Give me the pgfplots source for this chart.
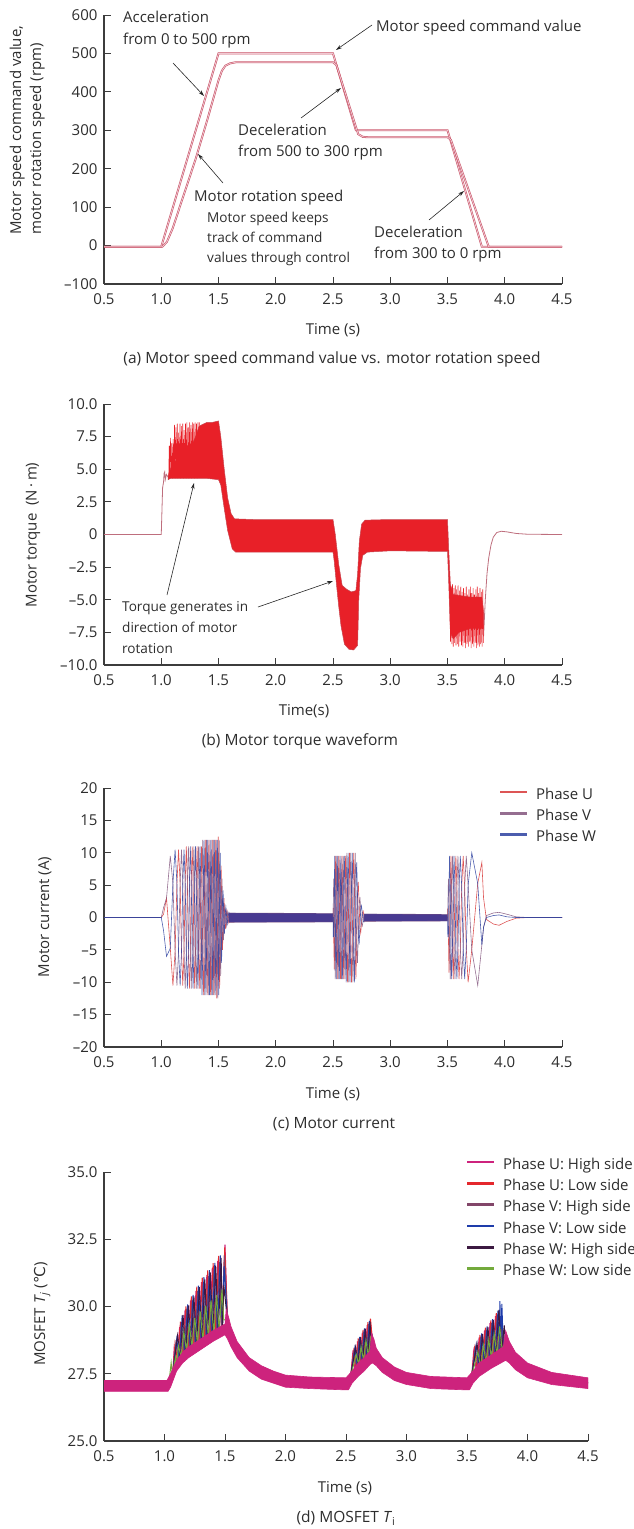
\documentclass[border=0pt]{standalone}
\usepackage{fontspec}
\setmainfont{Open Sans}
\newfontfamily\dejavu{DejaVu Sans}
\usepackage{pgfplots}
\usepackage{pgfplotstable}
\pgfplotsset{compat=1.18}
\usetikzlibrary{arrows.meta}

\definecolor{axgray}{RGB}{60,60,60}
\definecolor{txt}{RGB}{45,45,45}
\definecolor{cmdred}{RGB}{200,80,100}
\definecolor{cmdpink}{RGB}{240,200,210}
\definecolor{torqred}{RGB}{232,32,40}
\definecolor{torqedge}{RGB}{200,70,80}
\definecolor{torqthin}{RGB}{190,110,125}
\definecolor{phU}{RGB}{215,55,55}
\definecolor{phV}{RGB}{130,85,125}
\definecolor{phW}{RGB}{45,65,160}
\definecolor{bandc}{RGB}{72,58,145}
\definecolor{tUH}{RGB}{205,35,125}
\definecolor{tUL}{RGB}{228,40,45}
\definecolor{tVH}{RGB}{130,70,105}
\definecolor{tVL}{RGB}{30,60,170}
\definecolor{tWH}{RGB}{60,25,65}
\definecolor{tWL}{RGB}{115,170,60}

\newcommand\smfont{\fontsize{13.6}{16}\selectfont}
\newcommand\capfont{\fontsize{15.5}{18}\selectfont}

\pgfplotstableread{
t U V W
0.5 0 0 0
1.0 0 0 0
1.02 0.5 1.5 -2
1.046 3 3 -6
1.079 -4.75 9.5 -4.75
1.102 -10.5 5.25 5.25
1.121 -5.25 -5.25 10.5
1.137 5.25 -10.5 5.25
1.151 10.5 -5.25 -5.25
1.165 5.25 5.25 -10.5
1.177 -5.25 10.5 -5.25
1.188 -10.5 5.25 5.25
1.199 -5.25 -5.25 10.5
1.209 5.5 -11 5.5
1.219 11 -5.5 -5.5
1.228 5.5 5.5 -11
1.237 -5.5 11 -5.5
1.246 -11 5.5 5.5
1.254 -5.5 -5.5 11
1.262 5.5 -11 5.5
1.270 11 -5.5 -5.5
1.278 5.5 5.5 -11
1.285 -5.5 11 -5.5
1.292 -11 5.5 5.5
1.299 -5.5 -5.5 11
1.306 5.5 -11 5.5
1.313 11 -5.5 -5.5
1.320 5.5 5.5 -11
1.326 -5.5 11 -5.5
1.332 -11 5.5 5.5
1.339 -5.5 -5.5 11
1.345 5.5 -11 5.5
1.351 11 -5.5 -5.5
1.356 6 6 -12
1.362 -6 12 -6
1.368 -12 6 6
1.374 -6 -6 12
1.379 6 -12 6
1.385 12 -6 -6
1.390 6 6 -12
1.395 -6 12 -6
1.401 -12 6 6
1.406 -6 -6 12
1.411 6 -12 6
1.416 12 -6 -6
1.421 6 6 -12
1.426 -6 12 -6
1.431 -12 6 6
1.435 -6 -6 12
1.440 6 -12 6
1.445 12 -6 -6
1.450 6 6 -12
1.454 -6 12 -6
1.459 -12 6 6
1.463 -6 -6 12
1.468 6 -12 6
1.472 12 -6 -6
1.477 6 6 -12
1.481 -6 12 -6
1.485 -12.5 6 6
1.490 -6 -6 12
1.494 6 -12.5 6
1.498 12.5 -6 -6
1.502 6 6 -12
1.506 -6 12 -6
1.510 -11 5.5 5.5
1.515 -5 -5 10
1.519 4.5 -9 4.5
1.523 8 -4 -4
1.527 3.5 3.5 -7
1.531 -3 6 -3
1.535 -5 2.5 2.5
1.540 -2.1 -2.1 4.2
1.544 1.75 -3.5 1.75
1.548 3 -1.5 -1.5
1.552 1.25 1.25 -2.5
1.556 -1.05 2.1 -1.05
1.560 -1.8 0.9 0.9
1.565 -0.75 -0.75 1.5
1.569 0.65 -1.3 0.65
1.573 1.1 -0.55 -0.55
1.577 0.5 0.5 -1
1.581 -0.45 0.9 -0.45
1.585 -0.8 0.4 0.4
1.590 -0.35 -0.35 0.7
1.594 0.33 -0.65 0.33
1.598 0.6 -0.3 -0.3
1.60 0 0 0
2.50 0 0 0
2.502 1.5 1.5 -3
2.506 -3 6 -3
2.511 -8 4 4
2.515 -4.75 -4.75 9.5
2.519 4.75 -9.5 4.75
2.523 9.5 -4.75 -4.75
2.528 4.75 4.75 -9.5
2.532 -4.75 9.5 -4.75
2.537 -9.5 4.75 4.75
2.541 -4.75 -4.75 9.5
2.546 4.75 -9.5 4.75
2.550 9.5 -4.75 -4.75
2.555 4.75 4.75 -9.5
2.560 -4.75 9.5 -4.75
2.565 -9.5 4.75 4.75
2.569 -4.75 -4.75 9.5
2.574 4.75 -9.5 4.75
2.579 9.5 -4.75 -4.75
2.584 4.75 4.75 -9.5
2.589 -4.75 9.5 -4.75
2.594 -9.5 4.75 4.75
2.599 -4.75 -4.75 9.5
2.605 4.75 -9.5 4.75
2.610 9.5 -4.75 -4.75
2.615 5 5 -10
2.621 -5 10 -5
2.626 -10 5 5
2.632 -5 -5 10
2.638 5 -10 5
2.644 10 -5 -5
2.649 5 5 -10
2.655 -5 10 -5
2.662 -10 5 5
2.668 -5 -5 10
2.674 5 -10 5
2.681 10 -5 -5
2.687 5 5 -10
2.694 -5 10 -5
2.700 -9.5 4.75 4.75
2.707 -4.25 -4.25 8.5
2.714 3.5 -7 3.5
2.721 5.5 -2.75 -2.75
2.728 2.1 2.1 -4.2
2.735 -1.6 3.2 -1.6
2.742 -2.4 1.2 1.2
2.749 -0.9 -0.9 1.8
2.756 0.65 -1.3 0.65
2.763 1 -0.5 -0.5
2.770 0.35 0.35 -0.7
2.777 -0.25 0.5 -0.25
2.78 0 0 0
3.50 0 0 0
3.503 1.5 1.5 -3
3.508 -3 6 -3
3.513 -8.5 4.25 4.25
3.518 -4.75 -4.75 9.5
3.524 4.75 -9.5 4.75
3.530 9.5 -4.75 -4.75
3.536 4.75 4.75 -9.5
3.543 -4.75 9.5 -4.75
3.550 -9.5 4.75 4.75
3.557 -4.75 -4.75 9.5
3.565 4.75 -9.5 4.75
3.573 9.5 -4.75 -4.75
3.582 4.75 4.75 -9.5
3.591 -4.75 9.5 -4.75
3.601 -9.5 4.75 4.75
3.612 -4.75 -4.75 9.5
3.624 4.75 -9.5 4.75
3.637 9.5 -4.75 -4.75
3.650 4.75 4.75 -9.5
3.664 -4.75 9.5 -4.75
3.680 -10 5 5
3.712 -5 -5 10
3.764 5.25 -10.5 5.25
3.800 8.5 -4.25 -4.25
3.815 3 -1.5 -1.5
3.840 -0.3 0.3 0
3.90 -1.0 0.7 0.3
3.95 -1.2 0.8 0.4
4.02 -0.6 0.5 0.1
4.10 -0.1 0.1 0
4.20 0 0 0
4.50 0 0 0
}\currenttable

\pgfplotsset{
  myaxis/.style={
    scale only axis,
    anchor=north west,
    axis lines*=left,
    axis line style={axgray, line width=1.3pt},
    tick align=inside,
    major tick length=7pt,
    major tick style={axgray, line width=1pt},
    xmin=0.5, xmax=4.5,
    xtick={0.5,1,1.5,2,2.5,3,3.5,4,4.5},
    xticklabels={0.5,1.0,1.5,2.0,2.5,3.0,3.5,4.0,4.5},
    tick label style={font=\fontsize{15}{18}\selectfont, text=txt},
    xticklabel style={yshift=-6pt},
    yticklabel style={xshift=-3pt},
  },
  mylegend/.style={
    legend cell align=left,
    legend image code/.code={\draw[##1, line width=2.6pt] (0pt,0.36em) -- (27pt,0.36em);},
    legend style={draw=none, fill=none, inner sep=0pt, outer sep=0pt,
      row sep=6.8pt, font=\fontsize{15}{18}\selectfont, text=txt,
      nodes={inner sep=0pt, text height=11pt, text depth=3.5pt},
      /tikz/every odd column/.append style={column sep=7.5pt}},
  },
}

\begin{document}
\begin{tikzpicture}[font=\fontsize{15}{18}\selectfont, text=txt]

% ---------------- (a) ----------------
\begin{axis}[myaxis, at={(104pt,-15pt)}, width=458pt, height=269pt,
  ymin=-100, ymax=600, ytick={-100,0,100,200,300,400,500,600},
  yticklabels={–100,0,100,200,300,400,500,600}]
\addplot[draw=cmdred, line width=0.55pt, double=cmdpink, double distance=0.8pt]
  coordinates {(0.5,-3) (1.0,-3) (1.5,500) (2.5,500) (2.7,300) (3.5,300) (3.8,-3) (4.5,-3)};
\addplot[draw=cmdred, line width=0.55pt, double=cmdpink, double distance=0.8pt]
  coordinates {(0.5,-3) (1.01,-3) (1.05,10) (1.1,45) (1.2,135) (1.3,225) (1.4,325) (1.5,430)
  (1.53,455) (1.56,468) (1.6,474) (1.65,477) (2.5,477) (2.53,470) (2.72,290) (2.76,283)
  (2.8,282) (3.5,282) (3.53,275) (3.86,-3) (4.5,-3)};
\end{axis}

% ---------------- (b) ----------------
\begin{axis}[myaxis, at={(104pt,-404pt)}, width=458pt, height=261pt,
  ymin=-10, ymax=10, ytick={-10,-7.5,-5,-2.5,0,2.5,5,7.5,10},
  yticklabels={–10.0,–7.5,–5.0,–2.5,0,2.5,5.0,7.5,10.0}]
\addplot[torqthin, line width=0.8pt] coordinates {(0.5,0) (1.0,0) (1.005,1.5) (1.012,3.6)
  (1.02,4.0) (1.025,4.7) (1.03,4.8) (1.035,4.2) (1.045,4.6) (1.06,4.4)};
\addplot[torqthin, line width=0.8pt] coordinates {(3.815,-7.8) (3.83,-5.0) (3.845,-3.0)
  (3.86,-1.8) (3.88,-0.8) (3.9,-0.2) (3.93,0.15) (3.97,0.25) (4.02,0.2) (4.1,0.08)
  (4.2,0.02) (4.5,0)};
\addplot[fill=torqred, draw=torqedge, line width=0.5pt] coordinates {
  (1.06,4.4) (1.08,5.0) (1.1,5.5) (1.15,5.8) (1.2,6.0) (1.25,6.5) (1.3,7.5) (1.33,8.3)
  (1.4,8.6) (1.45,8.6) (1.5,8.7) (1.52,7.5) (1.55,5.0) (1.58,2.8) (1.61,1.6) (1.64,1.2)
  (1.8,1.15) (2.0,1.15) (2.5,1.15) (2.52,0.0) (2.55,-2.3) (2.58,-3.9) (2.62,-4.2)
  (2.66,-4.4) (2.70,-4.3) (2.715,-3.0) (2.73,-0.5) (2.75,0.8) (2.78,1.1) (3.0,1.15)
  (3.5,1.15) (3.51,-1.0) (3.525,-3.8) (3.55,-4.6) (3.7,-4.8) (3.8,-4.8) (3.815,-6.0)
  (3.815,-7.2) (3.8,-7.2) (3.7,-7.2) (3.6,-7.5) (3.55,-8.0) (3.525,-7.5) (3.51,-3.5)
  (3.5,-1.3) (3.0,-1.25) (2.8,-1.35) (2.76,-1.6) (2.74,-2.6) (2.725,-5.0) (2.715,-8.5)
  (2.68,-8.85) (2.64,-8.8) (2.6,-8.4) (2.57,-7.0) (2.55,-5.5) (2.53,-3.8) (2.51,-2.0)
  (2.5,-1.35) (1.8,-1.35) (1.65,-1.35) (1.62,-1.1) (1.58,0.3) (1.55,2.0) (1.52,3.8)
  (1.5,4.2) (1.4,4.3) (1.3,4.3) (1.2,4.3) (1.1,4.3) (1.08,4.3) (1.06,4.2)} -- cycle;
\addplot[torqred, line width=0.55pt] coordinates {
  (1.065,4.4) (1.07,6.8) (1.074,4.5) (1.08,7.4) (1.086,4.4) (1.092,7.0) (1.098,4.3)
  (1.104,7.3) (1.11,4.4) (1.116,8.4) (1.122,4.3) (1.128,8.2) (1.134,4.4) (1.14,8.5)
  (1.146,4.3) (1.152,7.8) (1.158,4.4) (1.164,8.5) (1.17,4.3) (1.176,8.3) (1.182,4.4)
  (1.188,8.5) (1.194,4.3) (1.2,8.0) (1.206,4.4) (1.212,8.5) (1.218,4.3) (1.224,8.6)
  (1.23,4.4) (1.236,8.2) (1.242,4.3) (1.248,8.6) (1.254,4.4) (1.26,8.4) (1.266,4.3)
  (1.272,8.6) (1.278,4.4) (1.284,8.5) (1.29,4.3) (1.296,8.6) (1.302,4.4) (1.308,8.5)
  (1.314,4.3) (1.32,8.6) (1.326,4.4) (1.332,8.6)};
\addplot[torqred, line width=0.55pt] coordinates {
  (3.52,-3.9) (3.526,-8.2) (3.532,-4.0) (3.538,-8.4) (3.544,-3.8) (3.55,-8.6) (3.556,-4.1)
  (3.562,-8.3) (3.568,-3.9) (3.574,-8.5) (3.58,-4.2) (3.586,-8.4) (3.592,-3.9) (3.598,-8.6)
  (3.604,-4.3) (3.61,-8.2) (3.616,-4.0) (3.622,-8.5) (3.628,-4.4) (3.634,-8.6) (3.64,-4.1)
  (3.646,-8.3) (3.652,-4.5) (3.658,-8.7) (3.664,-4.0) (3.67,-8.4) (3.676,-4.6) (3.682,-8.6)
  (3.688,-4.2) (3.694,-8.2) (3.7,-4.0) (3.706,-8.7) (3.712,-4.5) (3.718,-8.4) (3.724,-4.1)
  (3.73,-8.6) (3.736,-4.6) (3.742,-8.3) (3.748,-4.2) (3.754,-8.7) (3.76,-4.0) (3.766,-8.5)
  (3.772,-4.5) (3.778,-8.6) (3.784,-4.1) (3.79,-8.4) (3.796,-4.4) (3.802,-8.6) (3.808,-4.2)
  (3.814,-8.3)};
\end{axis}

% ---------------- (c) ----------------
\begin{axis}[myaxis, mylegend, at={(104pt,-788pt)}, width=458pt, height=259pt,
  ymin=-20, ymax=20, ytick={-20,-15,-10,-5,0,5,10,15,20},
  yticklabels={–20,–15,–10,–5,0,5,10,15,20},
  legend style={at={(0.8624,0.9988)}, anchor=north west}]
\addplot[phU, line width=0.6pt, draw opacity=0.85] table[x=t, y=U] {\currenttable};
\addlegendentry{Phase U}
\addplot[phV, line width=0.6pt, draw opacity=0.85] table[x=t, y=V] {\currenttable};
\addlegendentry{Phase V}
\addplot[phW, line width=0.6pt, draw opacity=0.85] table[x=t, y=W] {\currenttable};
\addlegendentry{Phase W}
\addplot[fill=bandc, draw=phV, line width=0.3pt, forget plot] coordinates {(1.59,0.7) (2.5,0.65) (2.5,-0.7) (1.59,-0.75)} -- cycle;
\addplot[fill=bandc, draw=phV, line width=0.3pt, forget plot] coordinates {(2.77,0.55) (3.5,0.5) (3.5,-0.55) (2.77,-0.6)} -- cycle;
\end{axis}

% ---------------- (d) ----------------
\begin{axis}[myaxis, mylegend, at={(104pt,-1172pt)}, width=484pt, height=269pt,
  ymin=25, ymax=35, ytick={25,27.5,30,32.5,35},
  yticklabels={25.0,27.5,30.0,32.5,35.0},
  legend style={at={(0.748,1.0508)}, anchor=north west}]
\addplot[tUH, line width=1pt] coordinates {(0.5,27.05) (1.02,27.05) (1.05,27.3) (1.07,27.6)
  (1.08,28.46) (1.1025,27.9) (1.125,29.24) (1.1475,28.2) (1.17,29.87) (1.1925,28.38)
  (1.215,30.23) (1.2375,28.5) (1.26,30.58) (1.2825,28.65) (1.305,30.91) (1.3275,28.78)
  (1.35,31.18) (1.3725,28.92) (1.395,31.44) (1.4175,29.03) (1.44,31.70) (1.47,29.15)
  (1.5,32.3) (1.52,29.5) (1.55,29.0) (1.6,28.45) (1.7,27.85) (1.8,27.55) (1.9,27.35)
  (2.0,27.25) (2.2,27.15) (2.5,27.1) (2.52,27.2) (2.54,27.45)
  (2.555,28.23) (2.575,27.65) (2.595,28.70) (2.615,27.85) (2.635,29.03) (2.655,28.0)
  (2.675,29.31) (2.69,28.2) (2.70,29.5)
  (2.715,28.9) (2.73,28.6) (2.75,28.2) (2.8,27.85) (2.9,27.5) (3.0,27.35) (3.2,27.2)
  (3.5,27.1) (3.52,27.2) (3.54,27.45)
  (3.555,28.32) (3.5775,27.6) (3.60,28.85) (3.6225,27.8) (3.645,29.11) (3.6675,27.95)
  (3.69,29.38) (3.7125,28.1) (3.735,29.64) (3.7575,28.2) (3.78,29.5) (3.80,28.4)
  (3.825,28.8) (3.85,28.4) (3.9,28.0) (4.0,27.6) (4.2,27.3) (4.5,27.15)};
\addlegendentry{Phase U: High side}
\addplot[tUL, line width=1pt] coordinates {(0.5,27.05) (1.02,27.05) (1.05,27.3) (1.07,27.6)
  (1.087,28.62) (1.1095,27.95) (1.132,29.44) (1.1545,28.22) (1.177,30.0) (1.1995,28.4)
  (1.222,30.38) (1.2445,28.54) (1.267,30.74) (1.2895,28.67) (1.312,31.07) (1.3345,28.8)
  (1.357,31.34) (1.3795,28.94) (1.402,31.61) (1.4245,29.04) (1.447,31.88) (1.475,29.15)
  (1.498,32.2) (1.52,29.5) (1.55,29.0) (1.6,28.45) (1.7,27.85) (1.8,27.55) (1.9,27.35)
  (2.0,27.25) (2.2,27.15) (2.5,27.1) (2.52,27.2) (2.54,27.45)
  (2.561,28.33) (2.581,27.7) (2.601,28.81) (2.621,27.88) (2.641,29.13) (2.661,28.03)
  (2.681,29.42) (2.692,28.25) (2.702,29.55)
  (2.715,28.9) (2.73,28.6) (2.75,28.2) (2.8,27.85) (2.9,27.5) (3.0,27.35) (3.2,27.2)
  (3.5,27.1) (3.52,27.2) (3.54,27.45)
  (3.562,28.44) (3.5845,27.65) (3.607,28.94) (3.6295,27.82) (3.652,29.21) (3.6745,27.97)
  (3.697,29.48) (3.7195,28.12) (3.742,29.75) (3.7645,28.22) (3.787,29.4) (3.805,28.4)
  (3.825,28.8) (3.85,28.4) (3.9,28.0) (4.0,27.6) (4.2,27.3) (4.5,27.15)};
\addlegendentry{Phase U: Low side}
\addplot[tVH, line width=1pt] coordinates {(0.5,27.05) (1.02,27.05) (1.05,27.3) (1.07,27.6)
  (1.094,28.62) (1.1165,28.0) (1.139,29.43) (1.1615,28.25) (1.184,29.90) (1.2065,28.42)
  (1.229,30.24) (1.2515,28.56) (1.274,30.57) (1.2965,28.69) (1.319,30.88) (1.3415,28.82)
  (1.364,31.13) (1.3865,28.96) (1.409,31.39) (1.4315,29.06) (1.454,31.65) (1.475,29.15)
  (1.495,31.9) (1.52,29.5) (1.55,29.0) (1.6,28.45) (1.7,27.85) (1.8,27.55) (1.9,27.35)
  (2.0,27.25) (2.2,27.15) (2.5,27.1) (2.52,27.2) (2.54,27.45)
  (2.567,28.33) (2.587,27.75) (2.607,28.77) (2.627,27.9) (2.647,29.07) (2.667,28.06)
  (2.687,29.34) (2.697,28.3)
  (2.715,28.9) (2.73,28.6) (2.75,28.2) (2.8,27.85) (2.9,27.5) (3.0,27.35) (3.2,27.2)
  (3.5,27.1) (3.52,27.2) (3.54,27.45)
  (3.569,28.45) (3.5915,27.68) (3.614,28.88) (3.6365,27.85) (3.659,29.13) (3.6815,28.0)
  (3.704,29.39) (3.7265,28.14) (3.749,29.65) (3.7715,28.25) (3.794,29.2) (3.81,28.4)
  (3.825,28.8) (3.85,28.4) (3.9,28.0) (4.0,27.6) (4.2,27.3) (4.5,27.15)};
\addlegendentry{Phase V: High side}
\addplot[tVL, line width=1pt] coordinates {(0.5,27.05) (1.02,27.05) (1.05,27.3) (1.07,27.6)
  (1.101,28.79) (1.1235,28.05) (1.146,29.67) (1.1685,28.28) (1.191,30.08) (1.2135,28.44)
  (1.236,30.43) (1.2585,28.58) (1.281,30.78) (1.3035,28.71) (1.326,31.09) (1.3485,28.85)
  (1.371,31.35) (1.3935,28.98) (1.416,31.62) (1.4385,29.07) (1.461,31.90) (1.478,29.16)
  (1.492,31.5) (1.52,29.5) (1.55,29.0) (1.6,28.45) (1.7,27.85) (1.8,27.55) (1.9,27.35)
  (2.0,27.25) (2.2,27.15) (2.5,27.1) (2.52,27.2) (2.54,27.45)
  (2.573,28.46) (2.593,27.8) (2.613,28.87) (2.633,27.95) (2.653,29.19) (2.673,28.1)
  (2.693,29.46) (2.70,28.4)
  (2.715,28.9) (2.73,28.6) (2.75,28.2) (2.8,27.85) (2.9,27.5) (3.0,27.35) (3.2,27.2)
  (3.5,27.1) (3.52,27.2) (3.54,27.45)
  (3.576,28.58) (3.5985,27.7) (3.621,29.0) (3.6435,27.87) (3.666,29.26) (3.6885,28.02)
  (3.711,29.53) (3.7335,28.16) (3.756,29.85) (3.764,28.3) (3.772,30.2) (3.780,28.6)
  (3.788,30.1) (3.80,28.5)
  (3.825,28.8) (3.85,28.4) (3.9,28.0) (4.0,27.6) (4.2,27.3) (4.5,27.15)};
\addlegendentry{Phase V: Low side}
\addplot[tWH, line width=1pt] coordinates {(0.5,27.05) (1.02,27.05) (1.05,27.3) (1.07,27.6)
  (1.108,28.92) (1.1305,28.1) (1.153,29.69) (1.1755,28.3) (1.198,30.04) (1.2205,28.46)
  (1.243,30.38) (1.2655,28.6) (1.288,30.72) (1.3105,28.73) (1.333,31.01) (1.3555,28.87)
  (1.378,31.27) (1.4005,28.99) (1.423,31.52) (1.4455,29.08) (1.468,31.81) (1.48,29.17)
  (1.49,30.8) (1.52,29.5) (1.55,29.0) (1.6,28.45) (1.7,27.85) (1.8,27.55) (1.9,27.35)
  (2.0,27.25) (2.2,27.15) (2.5,27.1) (2.52,27.2) (2.54,27.45)
  (2.579,28.49) (2.599,27.85) (2.619,28.87) (2.639,27.98) (2.659,29.18) (2.679,28.12)
  (2.699,29.44) (2.707,28.5)
  (2.715,28.9) (2.73,28.6) (2.75,28.2) (2.8,27.85) (2.9,27.5) (3.0,27.35) (3.2,27.2)
  (3.5,27.1) (3.52,27.2) (3.54,27.45)
  (3.583,28.63) (3.6055,27.72) (3.628,28.98) (3.6505,27.9) (3.673,29.24) (3.6955,28.05)
  (3.718,29.5) (3.7405,28.18) (3.763,29.87) (3.7855,28.3) (3.808,29.3) (3.818,28.5)
  (3.825,28.8) (3.85,28.4) (3.9,28.0) (4.0,27.6) (4.2,27.3) (4.5,27.15)};
\addlegendentry{Phase W: High side}
\addplot[tWL, line width=1pt] coordinates {(0.5,27.05) (1.02,27.05) (1.04,27.3)
  (1.055,27.9) (1.065,27.45) (1.09,28.1) (1.1,27.8)
  (1.115,28.54) (1.1375,28.13) (1.16,29.05) (1.1825,28.33) (1.205,29.33) (1.2275,28.48)
  (1.25,29.58) (1.2725,28.62) (1.295,29.82) (1.3175,28.75) (1.34,30.03) (1.3625,28.88)
  (1.385,30.23) (1.4075,29.01) (1.43,30.42) (1.4525,29.1) (1.475,30.63) (1.49,29.5)
  (1.52,29.5) (1.55,29.0) (1.6,28.45) (1.7,27.85) (1.8,27.55) (1.9,27.35)
  (2.0,27.25) (2.2,27.15) (2.5,27.1) (2.52,27.2) (2.54,27.45)
  (2.585,28.21) (2.605,27.85) (2.625,28.5) (2.645,28.0) (2.665,28.73) (2.685,28.15)
  (2.705,28.9)
  (2.715,28.9) (2.73,28.6) (2.75,28.2) (2.8,27.85) (2.9,27.5) (3.0,27.35) (3.2,27.2)
  (3.5,27.1) (3.52,27.2) (3.54,27.45)
  (3.59,28.31) (3.6125,27.75) (3.635,28.56) (3.6575,27.92) (3.68,28.76) (3.7025,28.07)
  (3.725,28.97) (3.7475,28.2) (3.77,29.26) (3.7925,28.3) (3.815,28.7)
  (3.825,28.8) (3.85,28.4) (3.9,28.0) (4.0,27.6) (4.2,27.3) (4.5,27.15)};
\addlegendentry{Phase W: Low side}
\addplot[fill=tUH, draw=tUH, line width=0.6pt, forget plot] coordinates {
  (0.5,27.25) (1.02,27.25) (1.05,27.5) (1.1,28.0) (1.15,28.3) (1.2,28.5) (1.3,28.8)
  (1.4,29.1) (1.5,29.35) (1.51,29.9) (1.53,29.6) (1.55,29.25) (1.6,28.7) (1.7,28.1)
  (1.8,27.8) (1.9,27.6) (2.0,27.45) (2.2,27.38) (2.5,27.35) (2.55,27.6) (2.6,27.9)
  (2.65,28.1) (2.7,28.35) (2.71,29.0) (2.73,28.8) (2.75,28.45) (2.8,28.1) (2.9,27.75)
  (3.0,27.55) (3.2,27.4) (3.5,27.35) (3.55,27.6) (3.6,27.9) (3.7,28.2) (3.8,28.5)
  (3.82,29.1) (3.85,28.7) (3.9,28.3) (4.0,27.9) (4.2,27.55) (4.5,27.35)
  (4.5,26.95) (4.2,27.1) (4.0,27.35) (3.9,27.65) (3.85,27.9) (3.82,28.0) (3.8,27.95)
  (3.7,27.7) (3.6,27.4) (3.55,27.15) (3.52,26.9) (3.5,26.9) (3.2,26.95) (3.0,27.1)
  (2.9,27.25) (2.8,27.55) (2.75,27.8) (2.72,27.9) (2.7,27.85) (2.65,27.6) (2.6,27.4)
  (2.55,27.15) (2.52,26.9) (2.5,26.9) (2.2,26.95) (2.0,27.0) (1.9,27.15) (1.8,27.3)
  (1.7,27.6) (1.6,28.1) (1.55,28.5) (1.52,28.8) (1.5,28.95) (1.4,28.7) (1.3,28.4)
  (1.2,28.1) (1.15,27.9) (1.1,27.6) (1.05,27.0) (1.03,26.85) (0.5,26.85)} -- cycle;
\end{axis}

% ---------------- texts and arrows ----------------
\tikzset{lab/.style={inner sep=0pt, text=txt},
  arr/.style={-{Stealth[length=6pt,width=3.6pt]}, line width=0.6pt, black!85}}

% (a)
\node[lab, rotate=90, anchor=base west] at (21pt,-235pt) {Motor speed command value,};
\node[lab, rotate=90, anchor=base west] at (41pt,-235pt) {motor rotation speed (rpm)};
\node[lab, anchor=base west] at (123pt,-22pt) {Acceleration};
\node[lab, anchor=base west] at (123pt,-44pt) {from 0 to 500 rpm};
\draw[arr] (173pt,-63pt) -- (204pt,-96pt);
\node[lab, anchor=base west] at (376pt,-31pt) {Motor speed command value};
\draw[arr] (372pt,-25pt) -- (336pt,-50pt);
\node[lab, anchor=base west] at (238pt,-135pt) {Deceleration};
\node[lab, anchor=base west] at (238pt,-156pt) {from 500 to 300 rpm};
\draw[arr] (301pt,-118pt) -- (341pt,-88pt);
\node[lab, anchor=base west] at (194pt,-201pt) {Motor rotation speed};
\draw[arr] (223pt,-183pt) -- (198pt,-154pt);
\node[lab, anchor=base west] at (207pt,-222pt) {\smfont Motor speed keeps};
\node[lab, anchor=base west] at (207pt,-242pt) {\smfont track of command};
\node[lab, anchor=base west] at (207pt,-262pt) {\smfont values through control};
\node[lab, anchor=base west] at (374pt,-237pt) {Deceleration};
\node[lab, anchor=base west] at (374pt,-258pt) {from 300 to 0 rpm};
\draw[arr] (429pt,-220pt) -- (464pt,-191pt);
\node[lab, anchor=base] at (333pt,-334pt) {Time (s)};
\node[lab, anchor=base] at (332pt,-363pt) {\capfont (a) Motor speed command value vs. motor rotation speed};

% (b)
\node[lab, rotate=90, anchor=base] at (36.5pt,-535pt) {Motor torque\ \ (N\,·\,m)};
\node[lab, anchor=base west] at (122pt,-611pt) {\smfont Torque generates in};
\node[lab, anchor=base west] at (122pt,-632pt) {\smfont direction of motor};
\node[lab, anchor=base west] at (122pt,-653pt) {\smfont rotation};
\draw[arr] (167pt,-595pt) -- (194pt,-483pt);
\draw[arr] (258pt,-607pt) -- (333pt,-581pt);
\node[lab, anchor=base] at (304pt,-715pt) {Time(s)};
\node[lab, anchor=base] at (300pt,-745pt) {\capfont (b) Motor torque waveform};

% (c)
\node[lab, rotate=90, anchor=base] at (49pt,-917pt) {Motor current (A)};
\node[lab, anchor=base] at (333pt,-1098pt) {Time (s)};
\node[lab, anchor=base] at (334pt,-1128pt) {\capfont (c) Motor current};

% (d)
\node[lab, rotate=90, anchor=base] at (45pt,-1314pt) {MOSFET \textit{T}\textsubscript{\textit{j}} ({\dejavu ℃})};
\node[lab, anchor=base] at (345pt,-1492pt) {Time (s)};
\node[lab, anchor=base] at (346pt,-1522pt) {\capfont (d) MOSFET \textit{T}\textsubscript{i}};

\pgfresetboundingbox
\useasboundingbox (0pt,0pt) rectangle (634pt,-1529pt);
\end{tikzpicture}
\end{document}
